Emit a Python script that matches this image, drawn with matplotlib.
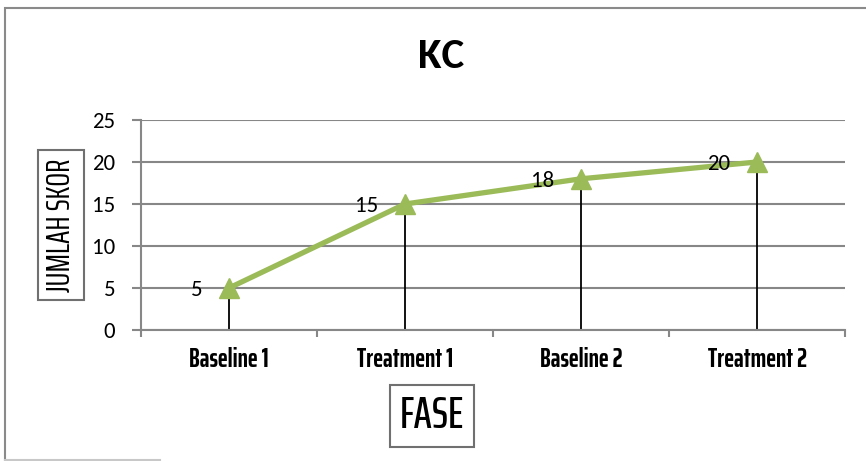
import matplotlib
matplotlib.use("Agg")
import matplotlib.pyplot as plt
from matplotlib import font_manager
from matplotlib.patches import Rectangle
from matplotlib.lines import Line2D

phases = ["Baseline 1", "Treatment 1", "Baseline 2", "Treatment 2"]
scores = [5, 15, 18, 20]
yticks = [0, 5, 10, 15, 20, 25]

names = {f.name for f in font_manager.fontManager.ttflist}
narrow = "Saira ExtraCondensed" if "Saira ExtraCondensed" in names else "DejaVu Sans"
body = "Carlito" if "Carlito" in names else "DejaVu Sans"

W, H = 866, 461
fig = plt.figure(figsize=(W / 100, H / 100), dpi=100)

# outer chart frame
fig.add_artist(Rectangle((5 / W, -0.05), 1.2, (H - 8) / H + 0.05, transform=fig.transFigure,
                         fill=False, edgecolor="#8a8a8a", linewidth=1.5))
fig.add_artist(Line2D([5 / W, 160 / W], [1.5 / H, 1.5 / H], transform=fig.transFigure,
                      color="#c8c8c8", linewidth=1.5))

ax = fig.add_axes([141 / W, 1 - 330 / H, (845 - 141) / W, (330 - 120) / H])
x = list(range(len(phases)))
ax.set_xlim(-0.5, len(phases) - 0.5)
ax.set_ylim(0, 25)

grid_c = "#878787"
for y in yticks:
    ax.axhline(y, color=grid_c, linewidth=1.5, zorder=1)

# drop lines from each point to the axis
for xi, s in zip(x, scores):
    ax.plot([xi, xi], [0, s], color="black", linewidth=1.3, zorder=2)

ax.plot(x, scores, color="#9bbb59", linewidth=3.8, marker="^", markersize=15,
        markerfacecolor="#9bbb59", markeredgecolor="#9bbb59", zorder=3)

for xi, s in zip(x, scores):
    ax.annotate(str(s), (xi, s), xytext=(-19, -1.5), textcoords="offset points",
                ha="right", va="center", fontsize=16.5, family=body, zorder=4)

ax.set_yticks(yticks)
ax.set_yticklabels([str(v) for v in yticks], fontsize=16.5, family=body)
ax.set_xticks(x)
ax.set_xticklabels(phases, fontsize=19, family=narrow, fontweight="bold")
ax.set_xticks([i - 0.5 for i in range(len(phases) + 1)], minor=True)
ax.tick_params(axis="x", which="major", length=0, pad=12)
ax.tick_params(axis="x", which="minor", length=5, color=grid_c, width=1.5)
ax.tick_params(axis="y", length=6.5, color=grid_c, width=1.5, pad=12)

for side in ["top", "right"]:
    ax.spines[side].set_visible(False)
for side in ["left", "bottom"]:
    ax.spines[side].set_color(grid_c)
    ax.spines[side].set_linewidth(1.5)

fig.text(441 / W, 1 - 56 / H, "KC", ha="center", va="center", fontsize=31,
         fontweight="bold", family=body)

fig.text(61 / W, 1 - 225 / H, "JUMLAH SKOR", rotation=90, ha="center", va="center",
         fontsize=23.5, family=narrow,
         bbox=dict(boxstyle="square,pad=0.25", facecolor="white", edgecolor="#707070", linewidth=1.5))

fig.text(432 / W, 1 - 416 / H, "FASE", ha="center", va="center", fontsize=32, family=narrow,
         fontweight="medium",
         bbox=dict(boxstyle="square,pad=0.22", facecolor="white", edgecolor="#707070", linewidth=1.5))

fig.savefig("out.png", dpi=100, facecolor="white")
